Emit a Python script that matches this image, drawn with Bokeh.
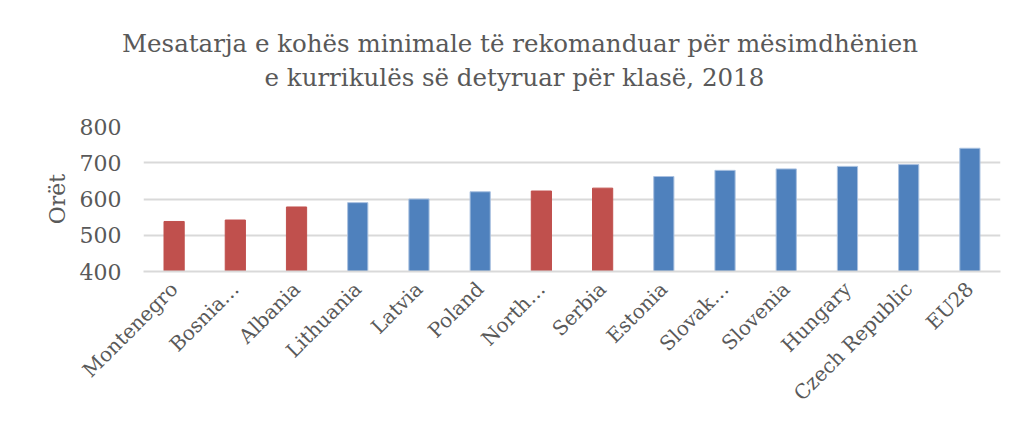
from math import pi
from bokeh.plotting import figure
from bokeh.models import FactorRange, Range1d, Title, ColumnDataSource
from bokeh.embed import file_html
from bokeh.resources import INLINE

countries = ["Montenegro", "Bosnia…", "Albania", "Lithuania", "Latvia", "Poland",
             "North…", "Serbia", "Estonia", "Slovak…", "Slovenia", "Hungary",
             "Czech Republic", "EU28"]
hours = [538, 542, 578, 590, 600, 620, 622, 630, 662, 679, 683, 690, 695, 740]
group = ["WB", "WB", "WB", "EU", "EU", "EU", "WB", "WB", "EU", "EU", "EU", "EU", "EU", "EU"]
title_lines = ["Mesatarja e kohës minimale të rekomanduar për mësimdhënien",
               "e kurrikulës së detyruar për klasë, 2018"]
y_label = "Orët"
y_ticks = [400, 500, 600, 700, 800]

RED = "#C0504D"
BLUE = "#4F81BD"
FONT = "DejaVu Serif"
GREY = "#595959"

fill = [RED if g == "WB" else BLUE for g in group]
outline = [RED if g == "WB" else "#A9C1E0" for g in group]
src = ColumnDataSource(dict(x=countries, top=hours, fill=fill, outline=outline))

p = figure(width=1018, height=421, x_range=FactorRange(*countries),
           y_range=Range1d(400, 800), output_backend="svg", toolbar_location=None,
           min_border_left=143, min_border_right=18, min_border_top=126,
           min_border_bottom=150)
p.outline_line_color = None

p.vbar(x="x", top="top", bottom=400, width=0.33, source=src,
       fill_color="fill", line_color="outline", line_width=1)

p.title = None
spacer = Title(text=" ", text_font_size="1px", standoff=30)
t2 = Title(text=title_lines[1], align="left", text_font=FONT,
           text_font_size="24.5px", text_font_style="normal", text_color=GREY,
           offset=121, standoff=3)
t1 = Title(text=title_lines[0], align="left", text_font=FONT,
           text_font_size="24.5px", text_font_style="normal", text_color=GREY,
           offset=-21.5, standoff=3)
p.add_layout(spacer, "above")
p.add_layout(t2, "above")
p.add_layout(t1, "above")

p.yaxis.ticker = y_ticks
p.yaxis.axis_line_color = None
p.yaxis.major_tick_line_color = None
p.yaxis.minor_tick_line_color = None
p.yaxis.major_label_standoff = 16
p.yaxis.major_label_text_font = FONT
p.yaxis.major_label_text_font_size = "22px"
p.yaxis.major_label_text_color = GREY
p.yaxis.axis_label = y_label
p.yaxis.axis_label_text_font = FONT
p.yaxis.axis_label_text_font_size = "22px"
p.yaxis.axis_label_text_font_style = "normal"
p.yaxis.axis_label_text_color = GREY
p.yaxis.axis_label_standoff = 7

p.xaxis.axis_line_color = "#D9D9D9"
p.xaxis.axis_line_width = 2
p.xaxis.major_tick_line_color = None
p.xaxis.minor_tick_line_color = None
p.xaxis.major_label_orientation = pi / 4
p.xaxis.major_label_standoff = 8
p.xaxis.major_label_text_font = FONT
p.xaxis.major_label_text_font_size = "20px"
p.xaxis.major_label_text_color = GREY

p.xgrid.grid_line_color = None
p.ygrid.grid_line_color = "#D9D9D9"
p.ygrid.grid_line_width = 2

open("out.html", "w").write(file_html(p, INLINE))
